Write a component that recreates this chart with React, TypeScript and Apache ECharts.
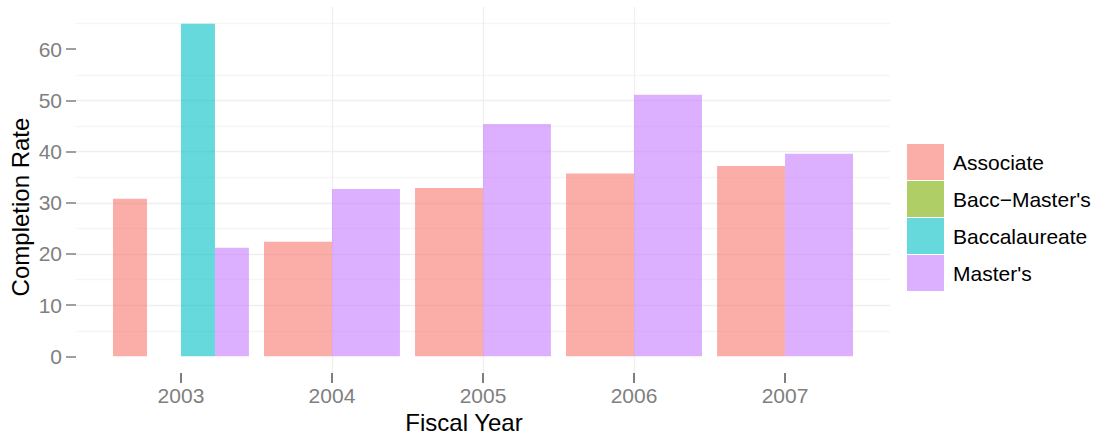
import React, { useEffect, useRef } from "react";
import * as echarts from "echarts";

const years = ["2003", "2004", "2005", "2006", "2007"];
const programs = ["Associate", "Bacc\u2212Master's", "Baccalaureate", "Master's"];
const associate = [30.8, 22.4, 32.9, 35.7, 37.2];
const baccMasters = [0, null, null, null, null];
const baccalaureate = [65, null, null, null, null];
const masters = [21.2, 32.7, 45.4, 51.1, 39.6];
const yTicks = [0, 10, 20, 30, 40, 50, 60];
const colors = [
  "rgba(248,118,109,0.6)",
  "rgba(124,174,0,0.6)",
  "rgba(0,191,196,0.6)",
  "rgba(199,124,255,0.6)",
];

const seriesValues = [associate, baccMasters, baccalaureate, masters];

export default function App() {
  const ref = useRef<HTMLDivElement>(null);
  useEffect(() => {
    document.body.style.margin = "0";
    const chart = echarts.init(ref.current!, null, { renderer: "svg" });
    const xs = years.map((_, i) => i + 1);
    // a year is "full" when any of the baccalaureate-type programs has a value
    const full = years.map((_, i) => baccMasters[i] != null || baccalaureate[i] != null);
    const series: any[] = [];
    seriesValues.forEach((vals, p) => {
      series.push({
        type: "bar",
        name: programs[p],
        xAxisIndex: 0,
        barGap: 0,
        barCategoryGap: "10%",
        itemStyle: { color: colors[p] },
        data: xs.map((x, i) => [x, full[i] && vals[i] != null ? vals[i] : "-"]),
      });
    });
    [0, 3].forEach((p) => {
      const vals = seriesValues[p];
      series.push({
        type: "bar",
        name: programs[p],
        xAxisIndex: 1,
        barGap: 0,
        barCategoryGap: "10%",
        itemStyle: { color: colors[p] },
        data: xs.map((x, i) => [x, !full[i] && vals[i] != null ? vals[i] : "-"]),
      });
    });
    const labelFont = "Liberation Sans";
    chart.setOption({
      animation: false,
      textStyle: { fontFamily: labelFont },
      grid: {
        left: 76,
        right: 208,
        top: 7,
        bottom: 62,
        containLabel: false,
        outerBoundsMode: "none",
      },
      legend: {
        orient: "vertical",
        left: 907,
        top: 144,
        padding: 0,
        itemWidth: 37,
        itemHeight: 36,
        itemGap: 1,
        icon: "rect",
        data: programs,
        selectedMode: false,
        textStyle: { fontSize: 21, color: "#000", fontFamily: labelFont, padding: [0, 0, 0, 4] },
      },
      xAxis: [
        {
          type: "value",
          min: 0.305,
          max: 5.695,
          minInterval: 1,
          maxInterval: 1,
          name: "Fiscal Year",
          nameLocation: "middle",
          nameGap: 37,
          nameMoveOverlap: false,
          nameTextStyle: { fontSize: 24, color: "#000", fontFamily: labelFont, padding: [0, 38, 0, 0] },
          axisLine: { show: false, onZero: false },
          axisTick: {
            show: true,
            length: 10,
            customValues: xs,
            lineStyle: { color: "#7f7f7f", width: 2 },
          },
          axisLabel: {
            customValues: xs,
            fontSize: 21,
            color: "#7f7f7f",
            margin: 12,
            formatter: (v: number) => {
              const i = Math.round(v) - 1;
              return Math.abs(v - Math.round(v)) < 1e-6 && years[i] ? years[i] : "";
            },
          },
          splitLine: {
            show: true,
            showMinLine: false,
            showMaxLine: false,
            lineStyle: { color: "#efefef", width: 1.3 },
          },
        },
        {
          type: "value",
          min: 0.305,
          max: 5.695,
          show: false,
          axisLine: { onZero: false },
        },
      ],
      yAxis: {
        type: "value",
        min: -3.25,
        max: 68.25,
        minInterval: 10,
        maxInterval: 10,
        name: "Completion Rate",
        nameLocation: "middle",
        nameGap: 44,
        nameMoveOverlap: false,
        nameTextStyle: { fontSize: 24, color: "#000", fontFamily: labelFont, padding: [0, 34, 0, 0] },
        axisLine: { show: false, onZero: false },
        axisTick: {
          show: true,
          length: 10,
          customValues: yTicks,
          lineStyle: { color: "#7f7f7f", width: 1.5 },
        },
        axisLabel: {
          customValues: yTicks,
          fontSize: 21,
          color: "#7f7f7f",
          margin: 14,
        },
        minorTick: { show: false, splitNumber: 2 },
        splitLine: {
          show: true,
          showMinLine: false,
          showMaxLine: false,
          lineStyle: { color: "#efefef", width: 1.3 },
        },
        minorSplitLine: { show: true, lineStyle: { color: "#f5f5f5", width: 1.3 } },
      },
      series,
    });
    return () => chart.dispose();
  }, []);
  return (
    <div
      ref={ref}
      style={{ position: "absolute", left: 0, top: 0, width: 1098, height: 435 }}
    />
  );
}
